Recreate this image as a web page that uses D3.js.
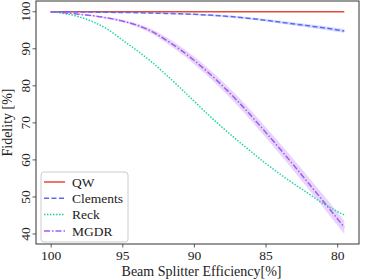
<!DOCTYPE html>
<html>
<head>
<meta charset="utf-8">
<script src="https://cdn.jsdelivr.net/npm/d3@7"></script>
<style>
  body { margin: 0; background: #fff; }
  svg { font-family: "Liberation Serif", "Times New Roman", serif; }
</style>
</head>
<body>
<svg width="365" height="280"></svg>
<script>
// beam splitter efficiency (%) and fidelity (%) per architecture
var efficiency = [100, 99, 98, 97, 96, 95, 94, 93, 92, 91, 90, 89, 88, 87, 86, 85, 84, 83, 82, 81, 80, 79.5];
var qw       = [100, 100, 100, 100, 100, 100, 100, 100, 100, 100, 100, 100, 100, 100, 100, 100, 100, 100, 100, 100, 100, 100];
var clements = [100, 100, 99.95, 99.9, 99.85, 99.8, 99.75, 99.65, 99.55, 99.45, 99.3, 99.1, 98.85, 98.55, 98.15, 97.7, 97.2, 96.7, 96.2, 95.7, 95.1, 94.8];
var clementsSpread = [0, 0.02, 0.04, 0.06, 0.08, 0.1, 0.12, 0.14, 0.16, 0.18, 0.2, 0.22, 0.25, 0.28, 0.31, 0.34, 0.37, 0.4, 0.43, 0.46, 0.5, 0.52];
var reck     = [100, 99.5, 98.6, 97.2, 95.2, 92.4, 89.6, 86.6, 83.2, 79.6, 75.9, 72.2, 68.7, 65.4, 62.2, 59.1, 56.2, 53.5, 50.9, 48.3, 46.1, 45.1];
var mgdr     = [100, 99.7, 99.3, 98.9, 98.3, 97.5, 96.4, 94.8, 92.5, 89.9, 86.9, 83.6, 80.0, 76.1, 71.9, 67.5, 63.0, 58.4, 53.7, 49.0, 44.2, 41.8];
var mgdrSpread = [0, 0.05, 0.1, 0.18, 0.25, 0.35, 0.45, 0.6, 0.75, 0.9, 1.0, 1.1, 1.2, 1.3, 1.35, 1.4, 1.5, 1.55, 1.6, 1.7, 1.75, 1.8];

var xTicks = [100, 95, 90, 85, 80];
var yTicks = [40, 50, 60, 70, 80, 90, 100];

var series = [
  { name: "QW", values: qw, color: "#e8473a", dash: null },
  { name: "Clements", values: clements, spread: clementsSpread, color: "#5a6cf2", dash: "5,2.5" },
  { name: "Reck", values: reck, color: "#1fd6a2", dash: "1.5,1.5" },
  { name: "MGDR", values: mgdr, spread: mgdrSpread, color: "#a259f2", dash: "6,2,1.5,2" }
];

var svg = d3.select("svg");
var margin = { left: 36, top: 1, right: 6, bottom: 36 };
var width = 365 - margin.left - margin.right;
var height = 280 - margin.top - margin.bottom;

var x = d3.scaleLinear().domain([101.025, 78.475]).range([0, width]);
var y = d3.scaleLinear().domain([37.3, 102.9]).range([height, 0]);

var g = svg.append("g")
  .attr("transform", "translate(" + margin.left + "," + margin.top + ")");

g.append("defs").append("clipPath").attr("id", "clip")
  .append("rect").attr("width", width).attr("height", height);

var plot = g.append("g").attr("clip-path", "url(#clip)");

// shaded bands
series.filter(function(s) { return s.spread; }).forEach(function(s) {
  var area = d3.area()
    .x(function(d, i) { return x(efficiency[i]); })
    .y0(function(d, i) { return y(d - s.spread[i]); })
    .y1(function(d, i) { return y(d + s.spread[i]); })
    .curve(d3.curveMonotoneX);
  plot.append("path")
    .attr("d", area(s.values))
    .attr("fill", s.color)
    .attr("opacity", 0.25);
});

series.forEach(function(s) {
  var line = d3.line()
    .x(function(d, i) { return x(efficiency[i]); })
    .y(function(d) { return y(d); })
    .curve(d3.curveMonotoneX);
  plot.append("path")
    .attr("d", line(s.values))
    .attr("fill", "none")
    .attr("stroke", s.color)
    .attr("stroke-width", 1.5)
    .attr("stroke-dasharray", s.dash);
});

// axes
var xAxis = g.append("g")
  .attr("transform", "translate(0," + height + ")")
  .call(d3.axisBottom(x).tickValues(xTicks).tickSize(3.5).tickPadding(3));
var yAxis = g.append("g")
  .call(d3.axisLeft(y).tickValues(yTicks).tickSize(3.5).tickPadding(3));

[xAxis, yAxis].forEach(function(a) {
  a.select(".domain").remove();
  a.selectAll("line").attr("stroke", "#333").attr("stroke-width", 0.8);
  a.selectAll("text").attr("fill", "#222").attr("font-size", 13.5)
    .attr("font-family", "Liberation Serif, serif");
});

yAxis.selectAll("text")
  .attr("text-anchor", "middle")
  .attr("dy", null)
  .attr("x", null)
  .attr("transform", function(d) { return "translate(-11," + y(d) + ") rotate(-90)"; })
  .attr("y", 0)
  .attr("dominant-baseline", "central");
yAxis.selectAll(".tick").attr("transform", null);
yAxis.selectAll(".tick line").attr("transform", function(d) { return "translate(0," + y(d) + ")"; });

g.append("rect")
  .attr("width", width).attr("height", height)
  .attr("fill", "none").attr("stroke", "#333").attr("stroke-width", 1);

// labels
svg.append("text")
  .attr("x", margin.left + width / 2 + 4)
  .attr("y", 276)
  .attr("text-anchor", "middle")
  .attr("font-size", 14)
  .attr("fill", "#222")
  .text("Beam Splitter Efficiency[%]");

svg.append("text")
  .attr("transform", "translate(12," + (margin.top + height / 2) + ") rotate(-90)")
  .attr("text-anchor", "middle")
  .attr("font-size", 14)
  .attr("fill", "#222")
  .text("Fidelity [%]");

// legend
var legend = g.append("g").attr("transform", "translate(5,171)");
legend.append("rect")
  .attr("width", 87).attr("height", 70).attr("rx", 3)
  .attr("fill", "#fff").attr("fill-opacity", 0.8)
  .attr("stroke", "#ccc").attr("stroke-width", 1);
series.forEach(function(s, i) {
  var row = legend.append("g").attr("transform", "translate(0," + (10 + i * 16.3) + ")");
  row.append("line")
    .attr("x1", 3).attr("x2", 24)
    .attr("stroke", s.color).attr("stroke-width", 1.5)
    .attr("stroke-dasharray", s.dash);
  row.append("text")
    .attr("x", 31).attr("dy", "0.35em")
    .attr("font-size", 13.5).attr("fill", "#222")
    .text(s.name);
});
</script>
</body>
</html>
